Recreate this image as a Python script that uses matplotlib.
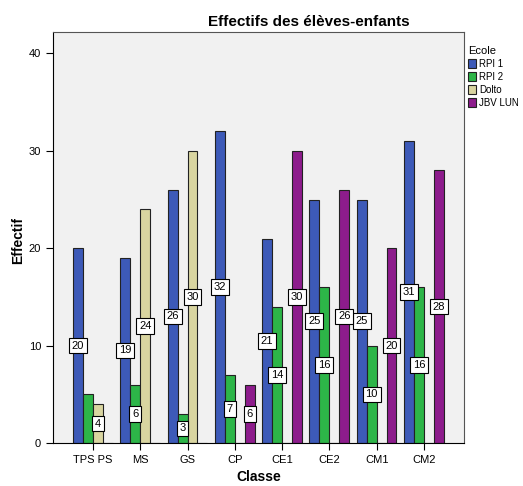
import matplotlib
matplotlib.use("Agg")
import matplotlib.pyplot as plt
import numpy as np

plt.rcParams['font.family'] = ['Liberation Sans', 'DejaVu Sans']

classes = ["TPS PS", "MS", "GS", "CP", "CE1", "CE2", "CM1", "CM2"]
ecoles = ["RPI 1", "RPI 2", "Dolto", "JBV LUN"]
couleurs = ["#3D5AB8", "#2DB548", "#D9D5A0", "#8D1C8C"]

rpi1 = [20, 19, 26, 32, 21, 25, 25, 31]
rpi2 = [5, 6, 3, 7, 14, 16, 10, 16]
dolto = [4, 24, 30, 0, 0, 0, 0, 0]
jbv = [0, 0, 0, 6, 30, 26, 20, 28]
series = [rpi1, rpi2, dolto, jbv]
# l'etiquette du 5 (RPI 2, TPS PS) n'apparait pas sur l'original
cacher = [(1, 0)]

fig = plt.figure(figsize=(5.23, 4.86), dpi=100)
ax = fig.add_axes([0.1013, 0.0885, 0.7857, 0.8455])
ax.set_facecolor("#F1F1F1")

x = np.arange(len(classes))
w = 0.21
for i, (vals, col, nom) in enumerate(zip(series, couleurs, ecoles)):
    pos = x + (i - 1.5) * w
    ax.bar(pos, vals, w, color=col, edgecolor="#222222", linewidth=0.8, label=nom)
    for j, v in enumerate(vals):
        if v == 0 or (i, j) in cacher:
            continue
        ax.text(pos[j], v / 2, str(v), ha="center", va="center", fontsize=8,
                bbox=dict(boxstyle="square,pad=0.25", fc="white", ec="black", lw=0.8))

ax.set_xlim(-0.846, 7.846)
ax.set_ylim(0, 42.2)
ax.set_yticks([0, 10, 20, 30, 40])
ax.set_xticks(x)
ax.set_xticklabels(classes, fontsize=8)
ax.tick_params(axis="y", labelsize=8, length=5, width=0.8)
ax.tick_params(axis="x", length=5, width=0.8)
for s in ["top", "right"]:
    ax.spines[s].set_color("#555555")
for s in ["left", "bottom"]:
    ax.spines[s].set_color("black")

ax.set_xlabel("Classe", fontsize=10, fontweight="bold", labelpad=4)
fig.text(18 / 523, 1 - 240 / 486, "Effectif", rotation=90, ha="center", va="center",
         fontsize=10, fontweight="bold")
fig.text(309 / 523, 1 - 22 / 486, "Effectifs des élèves-enfants", ha="center", va="center",
         fontsize=11, fontweight="bold")

leg = ax.legend(loc="upper left", bbox_to_anchor=(0.995, 0.98), frameon=False,
                title="Ecole", fontsize=7, title_fontsize=8, handlelength=0.9,
                handleheight=1.0, handletextpad=0.25, labelspacing=0.3, borderaxespad=0.2)
leg._legend_box.align = "left"

fig.savefig("out.png", dpi=100)
